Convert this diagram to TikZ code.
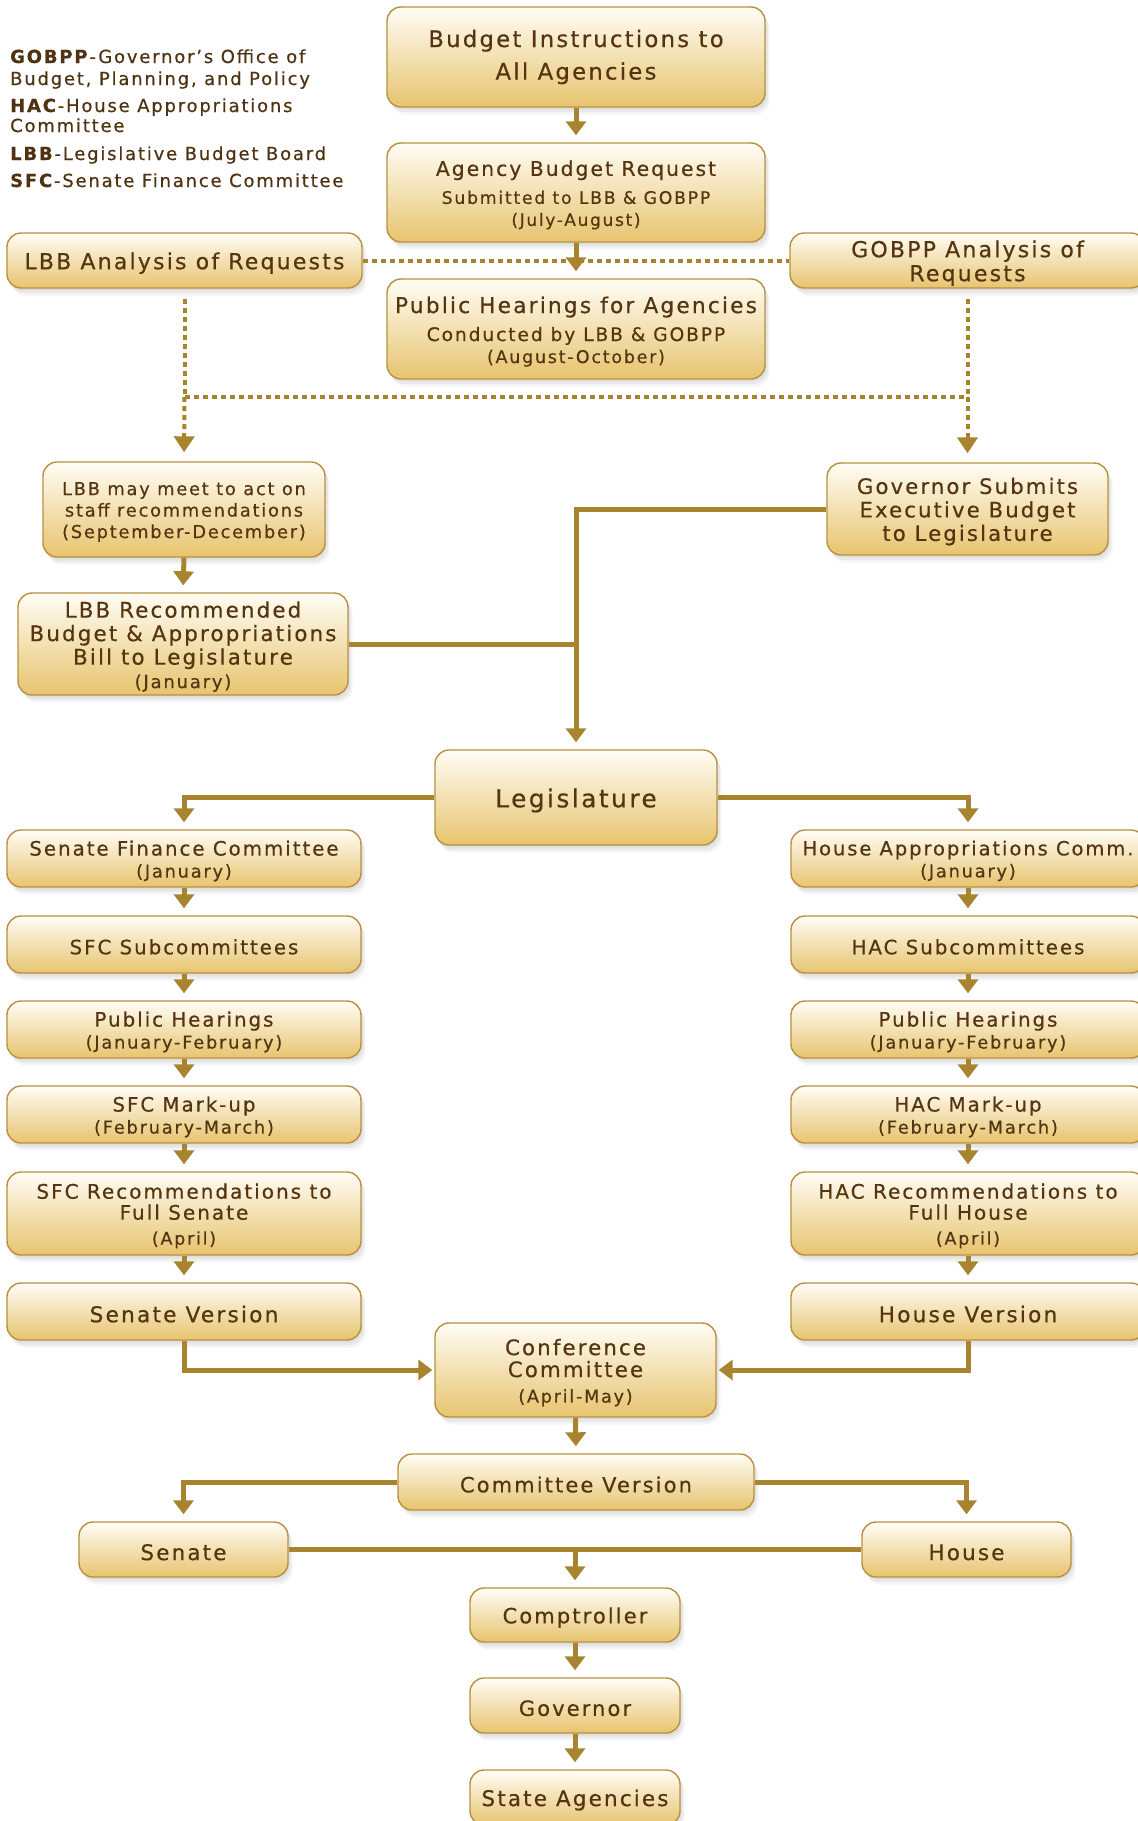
\documentclass[tikz,border=0pt]{standalone}
\usepackage{fontspec}
\setmainfont[LetterSpace=10,FakeBold=0.5]{DejaVu Sans}
\usetikzlibrary{arrows.meta,shadows}
\definecolor{boxtop}{HTML}{FFFDF6}
\definecolor{boxbot}{HTML}{E7C46E}
\definecolor{boxline}{HTML}{B8903E}
\definecolor{conn}{HTML}{A8842E}
\definecolor{txt}{HTML}{553510}
\definecolor{legtxt}{HTML}{4E3212}
\newcommand\fz[2]{\fontsize{#1}{#2}\selectfont}
\newcommand\st{\rule{0pt}{1em}}
\begin{document}
\begin{tikzpicture}[x=1pt,y=-1pt,
 box/.style={rectangle,rounded corners=14pt,draw=boxline,line width=1.4pt,top color=boxtop,bottom color=boxbot,text=txt,align=center,inner sep=0pt,
   drop shadow={opacity=0.10,shadow xshift=1.5pt,shadow yshift=-2.5pt},
   drop shadow={opacity=0.10,shadow xshift=3pt,shadow yshift=-5pt},
   drop shadow={opacity=0.08,shadow xshift=4.5pt,shadow yshift=-7.5pt},
   execute at begin node={\st}},
 conn/.style={draw=conn,line width=5pt},
 arr/.style={conn,-{Triangle[width=20pt,length=14pt]},shorten >=7pt},
 dots/.style={draw=conn,line width=4pt,dash pattern=on 5pt off 4pt},
 darr/.style={dots,-{Triangle[width=20pt,length=16pt]},shorten >=9pt},
 legend/.style={anchor=base west,inner sep=0pt,text=legtxt,font=\fz{18}{22}}]
\useasboundingbox (0,0) rectangle (1138,1821);
\clip (0,0) rectangle (1138,1821);

% legend
\node[legend] (l1) at (10,63) {\textbf{GOBPP}-Governor's Office of};
\node[legend] (l2) at (10,85) {Budget, Planning, and Policy};
\node[legend] (l3) at (10,112) {\textbf{HAC}-House Appropriations};
\node[legend] (l4) at (10,132) {Committee};
\node[legend] (l5) at (10,160) {\textbf{LBB}-Legislative Budget Board};
\node[legend] (l6) at (10,187) {\textbf{SFC}-Senate Finance Committee};

% top part
\node[box,minimum width=378pt,minimum height=100pt,font=\fz{22.7}{32.5}] (instr) at (576,57) {Budget Instructions to\\All Agencies};
\node[box,minimum width=378pt,minimum height=99pt,font=\fz{17}{22}] (agency) at (576,192.5) {\fz{20.3}{22}\st Agency Budget Request\\[6pt]\fz{17.3}{22}Submitted to LBB \& GOBPP\\(July-August)};
\node[box,minimum width=378pt,minimum height=100pt,font=\fz{17.5}{22}] (hearings) at (576,329) {\fz{21.7}{22}\st Public Hearings for Agencies\\[6pt]\fz{18.7}{22}Conducted by LBB \& GOBPP\\(August-October)};
\node[box,minimum width=355pt,minimum height=55pt,font=\fz{22}{24}] (lbbA) at (184.5,260.5) {LBB Analysis of Requests};
\node[box,minimum width=355pt,minimum height=55pt,font=\fz{22}{24}] (gobppA) at (967.5,260.5) {\st GOBPP Analysis of\\Requests};
\node[box,minimum width=282pt,minimum height=95pt,font=\fz{17.8}{21.5}] (meet) at (184,509.5) {\st LBB may meet to act on\\staff recommendations\\(September-December)};
\node[box,minimum width=281pt,minimum height=92pt,font=\fz{21.2}{23.5}] (gov) at (967.5,509) {\st Governor Submits\\Executive Budget\\to Legislature};
\node[box,minimum width=330pt,minimum height=102pt,font=\fz{21.4}{23.5}] (lbbrec) at (183,644) {\st LBB Recommended\\Budget \& Appropriations\\Bill to Legislature\\\fz{18}{23.5}(January)};
\node[box,minimum width=282pt,minimum height=95pt,font=\fz{24.8}{26}] (legis) at (576,797.5) {Legislature};

% senate column
\tikzset{col/.style={box,minimum width=354pt,minimum height=57pt,font=\fz{19.8}{22}}}
\node[col] (sfc) at (184,858.5) {\st Senate Finance Committee\\\fz{17.8}{22}(January)};
\node[col] (sfcsub) at (184,944.5) {SFC Subcommittees};
\node[col] (sph) at (184,1029.5) {\st Public Hearings\\\fz{17.8}{22}(January-February)};
\node[col] (smark) at (184,1114.5) {\st SFC Mark-up\\\fz{17.8}{22}(February-March)};
\node[col,minimum height=83pt,font=\fz{20}{21}] (srec) at (184,1213.5) {\st SFC Recommendations to\\Full Senate\\[4pt]\fz{17.5}{21}(April)};
\node[col,font=\fz{21.7}{22}] (sver) at (184,1311.5) {Senate Version};

% house column
\node[col,font=\fz{19.5}{22}] (hac) at (968,858.5) {\st House Appropriations Comm.\\\fz{17.8}{22}(January)};
\node[col] (hacsub) at (968,944.5) {HAC Subcommittees};
\node[col] (hph) at (968,1029.5) {\st Public Hearings\\\fz{17.8}{22}(January-February)};
\node[col] (hmark) at (968,1114.5) {\st HAC Mark-up\\\fz{17.8}{22}(February-March)};
\node[col,minimum height=83pt,font=\fz{20}{21}] (hrec) at (968,1213.5) {\st HAC Recommendations to\\Full House\\[4pt]\fz{17.5}{21}(April)};
\node[col,font=\fz{21.7}{22}] (hver) at (968,1311.5) {House Version};

% bottom
\node[box,minimum width=281pt,minimum height=94pt,font=\fz{21.3}{22}] (conf) at (575.5,1370) {\st Conference\\Committee\\[3.5pt]\fz{17.6}{22}(April-May)};
\node[box,minimum width=356pt,minimum height=56pt,font=\fz{21}{22}] (cver) at (576,1482) {Committee Version};
\node[box,minimum width=209pt,minimum height=55pt,font=\fz{21.5}{22}] (senate) at (183.5,1549.5) {Senate};
\node[box,minimum width=209pt,minimum height=55pt,font=\fz{21.5}{22}] (house) at (966.5,1549.5) {House};
\node[box,minimum width=210pt,minimum height=54pt,font=\fz{21}{22}] (comp) at (575,1615) {Comptroller};
\node[box,minimum width=210pt,minimum height=55pt,font=\fz{21}{22}] (govr) at (575,1705.5) {Governor};
\node[box,minimum width=210pt,minimum height=55pt,font=\fz{21.5}{22}] (state) at (575,1797.5) {State Agencies};

% dotted connectors
\coordinate (dL) at (184.5,397);
\coordinate (dR) at (967.5,397);
\draw[dots] (lbbA.east) -- (gobppA.west);
\draw[dots,shorten <=10pt] (lbbA.south) -- (dL);
\draw[dots,shorten <=10pt] (gobppA.south) -- (dR);
\draw[dots] (dL) -- (dR);
\draw[darr] (dL) -- (meet.north);
\draw[darr] (dR) -- (gov.north);

% solid connectors
\draw[arr] (instr.south) -- (agency.north);
\draw[arr] (agency.south) -- (hearings.north);
\draw[arr] (meet.south) -- (lbbrec.north);
\draw[arr] (gov.west) -| (legis.north);
\draw[conn] (lbbrec.east) -- (lbbrec.east -| legis.north);
\draw[arr] (legis.west) -| (sfc.north);
\draw[arr] (legis.east) -| (hac.north);
\foreach \a/\b in {sfc/sfcsub,sfcsub/sph,sph/smark,smark/srec,srec/sver,hac/hacsub,hacsub/hph,hph/hmark,hmark/hrec,hrec/hver}
  \draw[arr] (\a.south) -- (\b.north);
\draw[arr,shorten >=2pt] (sver.south) |- (conf.west);
\draw[arr,shorten >=2pt] (hver.south) |- (conf.east);
\draw[arr] (conf.south) -- (cver.north);
\draw[arr] (cver.west) -| (senate.north);
\draw[arr] (cver.east) -| (house.north);
\draw[conn] (senate.east) -- (house.west);
\coordinate (sh) at (senate.east -| comp.north);
\draw[arr] (sh) -- (comp.north);
\draw[arr] (comp.south) -- (govr.north);
\draw[arr] (govr.south) -- (state.north);
\end{tikzpicture}
\end{document}
